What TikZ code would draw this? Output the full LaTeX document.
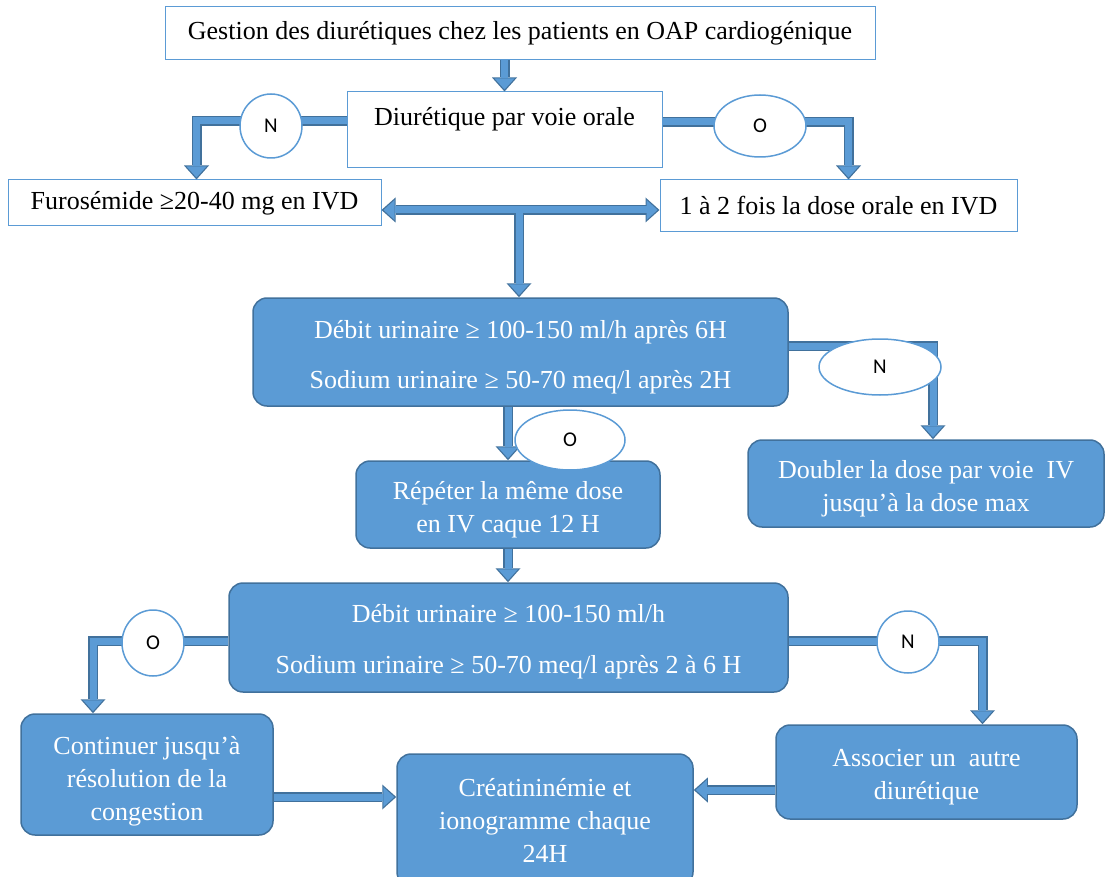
\documentclass[tikz,border=0pt]{standalone}
\usepackage{fontspec}
\setmainfont{Liberation Serif}
\newfontfamily\letterfont{Carlito}
\usetikzlibrary{arrows.meta,positioning,shapes.geometric}
\definecolor{boxblue}{HTML}{5B9BD5}
\definecolor{edgeblue}{HTML}{41719C}

\begin{document}
\begin{tikzpicture}
		[x=1pt,y=-1pt,
		white node/.style={shape=rectangle,draw=boxblue,line width=1pt,fill=white,inner sep=0pt,font=\fontsize{26}{33}\selectfont},
		blue node/.style={shape=rectangle,rounded corners=14pt,draw=edgeblue,line width=1.5pt,fill=boxblue,text=white,align=center,inner sep=0pt,text height=61pt,font=\fontsize{26}{33}\selectfont},
		answer node/.style={shape=ellipse,draw=boxblue,line width=1.5pt,fill=white,inner sep=0pt,font=\letterfont\fontsize{21}{24}\selectfont},
		block/.style={line width=10pt,draw=edgeblue,-{Triangle[width=25pt,length=14pt,line width=0pt]}},
		block in/.style={line width=7pt,draw=boxblue,shorten >=2pt,-{Triangle[width=20pt,length=11pt,line width=0pt]}}
		]
		
		\clip (0,0) rectangle (1105,877);
		
		\node [white node,minimum width=710pt,minimum height=53pt] (1) at (520,33.5) {Gestion des diurétiques chez les patients en OAP cardiogénique};
		\node [white node,minimum width=315pt,minimum height=76pt,text height=18pt,text depth=26pt] (2) at (504.5,130) {Diurétique par voie orale};
		\node [white node,minimum width=373pt,minimum height=46pt] (3) at (194.5,203) {Furosémide ≥20-40 mg en IVD};
		\node [white node,minimum width=357pt,minimum height=52pt] (4) at (838.5,206) {1 à 2 fois la dose orale en IVD};
		
		\node [blue node,minimum width=535pt,minimum height=108pt,text height=78pt,font=\fontsize{26}{50}\selectfont] (5) at (520.5,352) {Débit urinaire ≥ 100-150 ml/h après 6H\\Sodium urinaire ≥ 50-70 meq/l après 2H};
		\node [blue node,minimum width=356pt,minimum height=87pt] (6) at (926,483.5) {Doubler la dose par voie~ IV\\jusqu’à la dose max};
		\node [blue node,minimum width=304pt,minimum height=87pt] (7) at (508,504.5) {Répéter la même dose\\en IV caque 12 H};
		\node [blue node,minimum width=559pt,minimum height=109pt,text height=77pt,font=\fontsize{26}{51}\selectfont] (8) at (508.5,637.5) {Débit urinaire ≥ 100-150 ml/h\\Sodium urinaire ≥ 50-70 meq/l après 2 à 6 H};
		\node [blue node,minimum width=252pt,minimum height=121pt,text height=98pt] (9) at (147,774.5) {Continuer jusqu’à\\résolution de la\\congestion};
		\node [blue node,minimum width=296pt,minimum height=132pt,text height=84pt] (10) at (545,820) {Créatininémie et\\ionogramme chaque\\24H};
		\node [blue node,minimum width=301pt,minimum height=94pt] (11) at (926.5,772) {Associer un~ autre\\diurétique};
		
		\coordinate (t) at (519,210);
		
		% block arrows, outline first
		\foreach \s in {block,block in} {
		\draw[\s] (1.south -| 2.north) -- (2.north);
		\draw[\s] ([yshift=9pt]2.west) -| ([xshift=2pt]3.north);
		\draw[\s] ([yshift=8pt]2.east) -| ([xshift=10pt]4.north);
		\draw[\s] (t) -- (t |- 5.north);
		\draw[\s] ([yshift=6pt]5.east) -| ([xshift=7pt]6.north);
		\draw[\s] (5.south -| 7.north) -- (7.north);
		\draw[\s] (7.south) -- (7.south |- 8.north);
		\draw[\s] ([yshift=-3.5pt]8.west) -| ([xshift=-54pt]9.north);
		\draw[\s] ([yshift=-3.5pt]8.east) -| ([xshift=56pt]11.north);
		\draw[\s] ([yshift=-22.5pt]9.east) -- ([yshift=-22.5pt]9.east -| 10.west);
		\draw[\s] ([yshift=-18pt]11.west) -- ([yshift=-18pt]11.west -| 10.east);
		}
		\draw[block,{Triangle[width=25pt,length=14pt,line width=0pt]}-{Triangle[width=25pt,length=14pt,line width=0pt]}] ([yshift=-7pt]3.east) -- ([yshift=-4pt]4.west);
		\draw[block in,shorten <=2pt,{Triangle[width=20pt,length=11pt,line width=0pt]}-{Triangle[width=20pt,length=11pt,line width=0pt]}] ([yshift=-7pt]3.east) -- ([yshift=-4pt]4.west);
		\draw[line width=7pt,draw=boxblue] (t) -- ++(0,8);
		
		\node [answer node,minimum width=62pt,minimum height=64pt] (12) at (271,126) {N};
		\node [answer node,minimum width=92pt,minimum height=62pt] (13) at (760,126) {O};
		\node [answer node,minimum width=122pt,minimum height=56pt] (14) at (880,367) {N};
		\node [answer node,minimum width=110pt,minimum height=60pt] (15) at (570,440) {O};
		\node [answer node,minimum width=62pt,minimum height=66pt] (16) at (153,643) {O};
		\node [answer node,minimum width=62pt,minimum height=62pt] (17) at (908,642) {N};
		
\end{tikzpicture}
\end{document}
